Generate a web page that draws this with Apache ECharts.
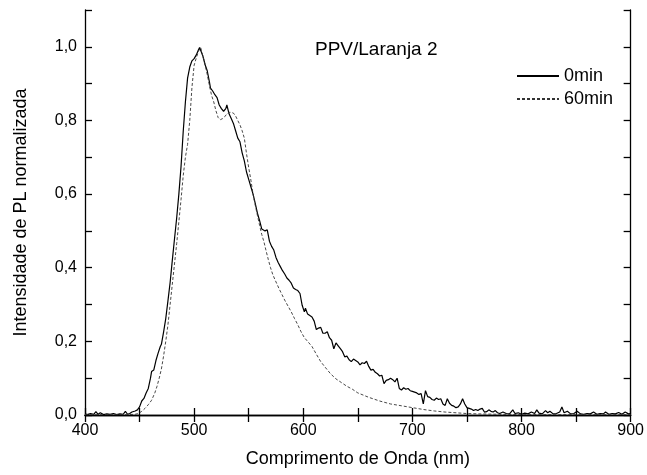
<!DOCTYPE html>
<html>
<head>
<meta charset="utf-8">
<script src="https://cdn.jsdelivr.net/npm/echarts@6/dist/echarts.min.js"></script>
<style>
html,body{margin:0;padding:0;background:#fff;}
#chart{width:647px;height:475px;}
</style>
</head>
<body>
<div id="chart"></div>
<script>
// ---- data ----
var seriesNames = ['0min', '60min'];
var chartTitle = 'PPV/Laranja 2';
var xAxisTitle = 'Comprimento de Onda (nm)';
var yAxisTitle = 'Intensidade de PL normalizada';

var wl0 = [400,402,405,408,410,412,414,417,420,423,426,429,432,435,437,439,441,443,444,446,448,450,452,454,456,458,460,461,463,465,467,469,470,472,474,476,478,480,482,484,486,488,490,492,494,496,498,500,502,504,505,506,508,510,512,514,515,517,519,521,523,525,527,529,530,532,534,536,538,540,542,544,546,548,550,552,554,556,558,560,562,565,567,569,571,573,575,577,579,581,583,585,587,589,591,593,595,597,599,601,602,604,606,608,610,612,614,616,618,620,622,624,626,628,630,632,634,636,638,640,642,644,646,648,650,652,654,656,658,660,662,664,666,668,670,672,674,676,678,680,682,684,686,688,690,692,694,696,698,700,702,704,706,708,710,712,714,716,718,720,722,724,726,728,730,732,734,736,738,740,742,744,746,748,750,752,754,756,758,760,762,764,766,768,770,772,774,776,778,780,783,786,789,792,794,797,800,803,806,809,812,814,816,819,822,824,826,829,832,835,837,839,842,845,848,851,854,857,860,863,866,869,872,875,877,880,883,886,889,892,895,898,900];
var pl0 = [0.003,0.001,0.004,0.002,0.009,0.002,0.006,0.001,0.003,0.002,0.004,0.001,0.003,0.002,0.010,0.002,0.004,0.008,0.003,0.011,0.014,0.022,0.038,0.045,0.060,0.072,0.100,0.118,0.122,0.148,0.168,0.186,0.192,0.225,0.262,0.310,0.360,0.420,0.478,0.535,0.600,0.675,0.770,0.850,0.915,0.945,0.962,0.968,0.978,0.992,0.998,1.000,0.975,0.952,0.935,0.905,0.888,0.880,0.870,0.862,0.842,0.832,0.825,0.832,0.842,0.818,0.805,0.792,0.772,0.752,0.742,0.712,0.690,0.660,0.640,0.620,0.600,0.575,0.548,0.528,0.505,0.500,0.503,0.472,0.458,0.448,0.428,0.414,0.403,0.392,0.383,0.372,0.366,0.358,0.345,0.341,0.338,0.330,0.298,0.280,0.290,0.274,0.270,0.266,0.255,0.232,0.236,0.238,0.222,0.222,0.226,0.210,0.203,0.180,0.196,0.188,0.180,0.172,0.158,0.160,0.150,0.145,0.152,0.148,0.144,0.136,0.142,0.140,0.146,0.132,0.122,0.124,0.116,0.112,0.106,0.108,0.085,0.094,0.096,0.100,0.096,0.090,0.100,0.072,0.068,0.074,0.070,0.072,0.066,0.064,0.062,0.060,0.056,0.058,0.030,0.066,0.050,0.048,0.042,0.040,0.046,0.042,0.044,0.030,0.026,0.044,0.032,0.026,0.024,0.020,0.022,0.030,0.044,0.030,0.020,0.018,0.016,0.012,0.015,0.012,0.016,0.018,0.008,0.009,0.014,0.010,0.008,0.012,0.006,0.004,0.008,0.004,0.003,0.014,0.004,0.006,0.002,0.005,0.003,0.008,0.004,0.014,0.005,0.003,0.012,0.006,0.010,0.003,0.004,0.008,0.022,0.006,0.010,0.003,0.004,0.010,0.003,0.002,0.004,0.003,0.008,0.002,0.004,0.003,0.008,0.002,0.004,0.003,0.007,0.002,0.008,0.003,0.004];

var wl60 = [400,420,440,446,449,452,455,458,461,464,466,468,470,472,474,476,478,480,482,484,486,488,490,492,494,496,498,500,502,504,506,508,510,512,514,516,518,520,522,524,526,528,530,532,534,536,538,540,542,544,546,548,550,552,554,556,558,560,562,564,566,568,570,572,574,576,578,580,583,586,589,592,595,598,601,604,608,612,616,620,625,630,635,640,645,650,655,660,670,680,690,700,710,720,730,740,750,760,780,800,900];
var pl60 = [0.001,0.001,0.001,0.002,0.004,0.010,0.018,0.028,0.040,0.060,0.078,0.100,0.125,0.160,0.200,0.245,0.300,0.355,0.410,0.465,0.525,0.585,0.650,0.700,0.735,0.800,0.890,0.950,0.970,0.988,0.998,0.975,0.952,0.925,0.895,0.868,0.850,0.826,0.808,0.802,0.805,0.810,0.818,0.822,0.822,0.820,0.812,0.800,0.788,0.772,0.752,0.710,0.672,0.638,0.600,0.570,0.542,0.515,0.490,0.470,0.445,0.422,0.400,0.382,0.368,0.355,0.342,0.330,0.312,0.296,0.280,0.262,0.245,0.226,0.210,0.200,0.186,0.165,0.145,0.130,0.112,0.098,0.088,0.078,0.070,0.060,0.054,0.048,0.038,0.030,0.025,0.020,0.015,0.011,0.008,0.006,0.004,0.003,0.002,0.001,0.001];

var xMin = 400, xMax = 900, xStep = 50, xLabelStep = 100;
var yMin = 0, yMax = 1.1, yStep = 0.1;

function pairs(xs, ys){ return xs.map(function(x,i){ return [x, ys[i]]; }); }

var FONT = "'Liberation Sans', Arial, sans-serif";
var chart = echarts.init(document.getElementById('chart'), null, {renderer:'canvas'});

var axisLine = {show:true, lineStyle:{color:'#000', width:1.3}};
var tickIn = {show:true, inside:true, length:7, lineStyle:{color:'#000', width:1.3}};

chart.setOption({
  animation:false,
  backgroundColor:'#fff',
  textStyle:{fontFamily:FONT},
  title:{
    text:chartTitle, left:315, top:40, padding:0,
    textStyle:{fontSize:19, fontWeight:'normal', color:'#000', fontFamily:FONT}
  },
  legend:{
    data:seriesNames, orient:'vertical', left:516, top:67, padding:0,
    itemWidth:42, itemHeight:12, itemGap:5,
    itemStyle:{opacity:0},
    textStyle:{fontSize:18, color:'#000', fontFamily:FONT}
  },
  grid:{left:85, right:14, top:10, bottom:60, containLabel:false},
  xAxis:[{
    type:'value', min:xMin, max:xMax, interval:xStep, position:'bottom',
    name:xAxisTitle, nameLocation:'middle', nameGap:35,
    nameTextStyle:{fontSize:18, color:'#000', fontFamily:FONT},
    axisLine:axisLine, axisTick:tickIn, splitLine:{show:false},
    axisLabel:{fontSize:16, color:'#000', margin:8, fontFamily:FONT,
      formatter:function(v){ return (Math.round(v) % xLabelStep === 0) ? String(v) : ''; }}
  },{
    type:'value', min:xMin, max:xMax, interval:xStep, position:'top',
    axisLine:axisLine, axisTick:tickIn, axisLabel:{show:false}, splitLine:{show:false}
  }],
  yAxis:[{
    type:'value', min:yMin, max:yMax, interval:yStep, position:'left',
    name:yAxisTitle, nameLocation:'middle', nameGap:55, nameRotate:90,
    nameTextStyle:{fontSize:18, color:'#000', fontFamily:FONT},
    axisLine:axisLine, axisTick:tickIn, splitLine:{show:false},
    axisLabel:{fontSize:16, color:'#000', margin:8, fontFamily:FONT,
      formatter:function(v){ var k = Math.round(v*10); return (k % 2 === 0) ? (k/10).toFixed(1).replace('.', ',') : ''; }}
  },{
    type:'value', min:yMin, max:yMax, interval:yStep, position:'right',
    axisLine:axisLine, axisTick:tickIn, axisLabel:{show:false}, splitLine:{show:false}
  }],
  series:[{
    name:seriesNames[0], type:'line', symbol:'none', data:pairs(wl0, pl0),
    lineStyle:{color:'#000', width:1.2, type:'solid'}, itemStyle:{color:'#000'}
  },{
    name:seriesNames[1], type:'line', symbol:'none', data:pairs(wl60, pl60),
    lineStyle:{color:'#333', width:0.9, type:[3,2]}, itemStyle:{color:'#333'}
  }]
});
</script>
</body>
</html>
